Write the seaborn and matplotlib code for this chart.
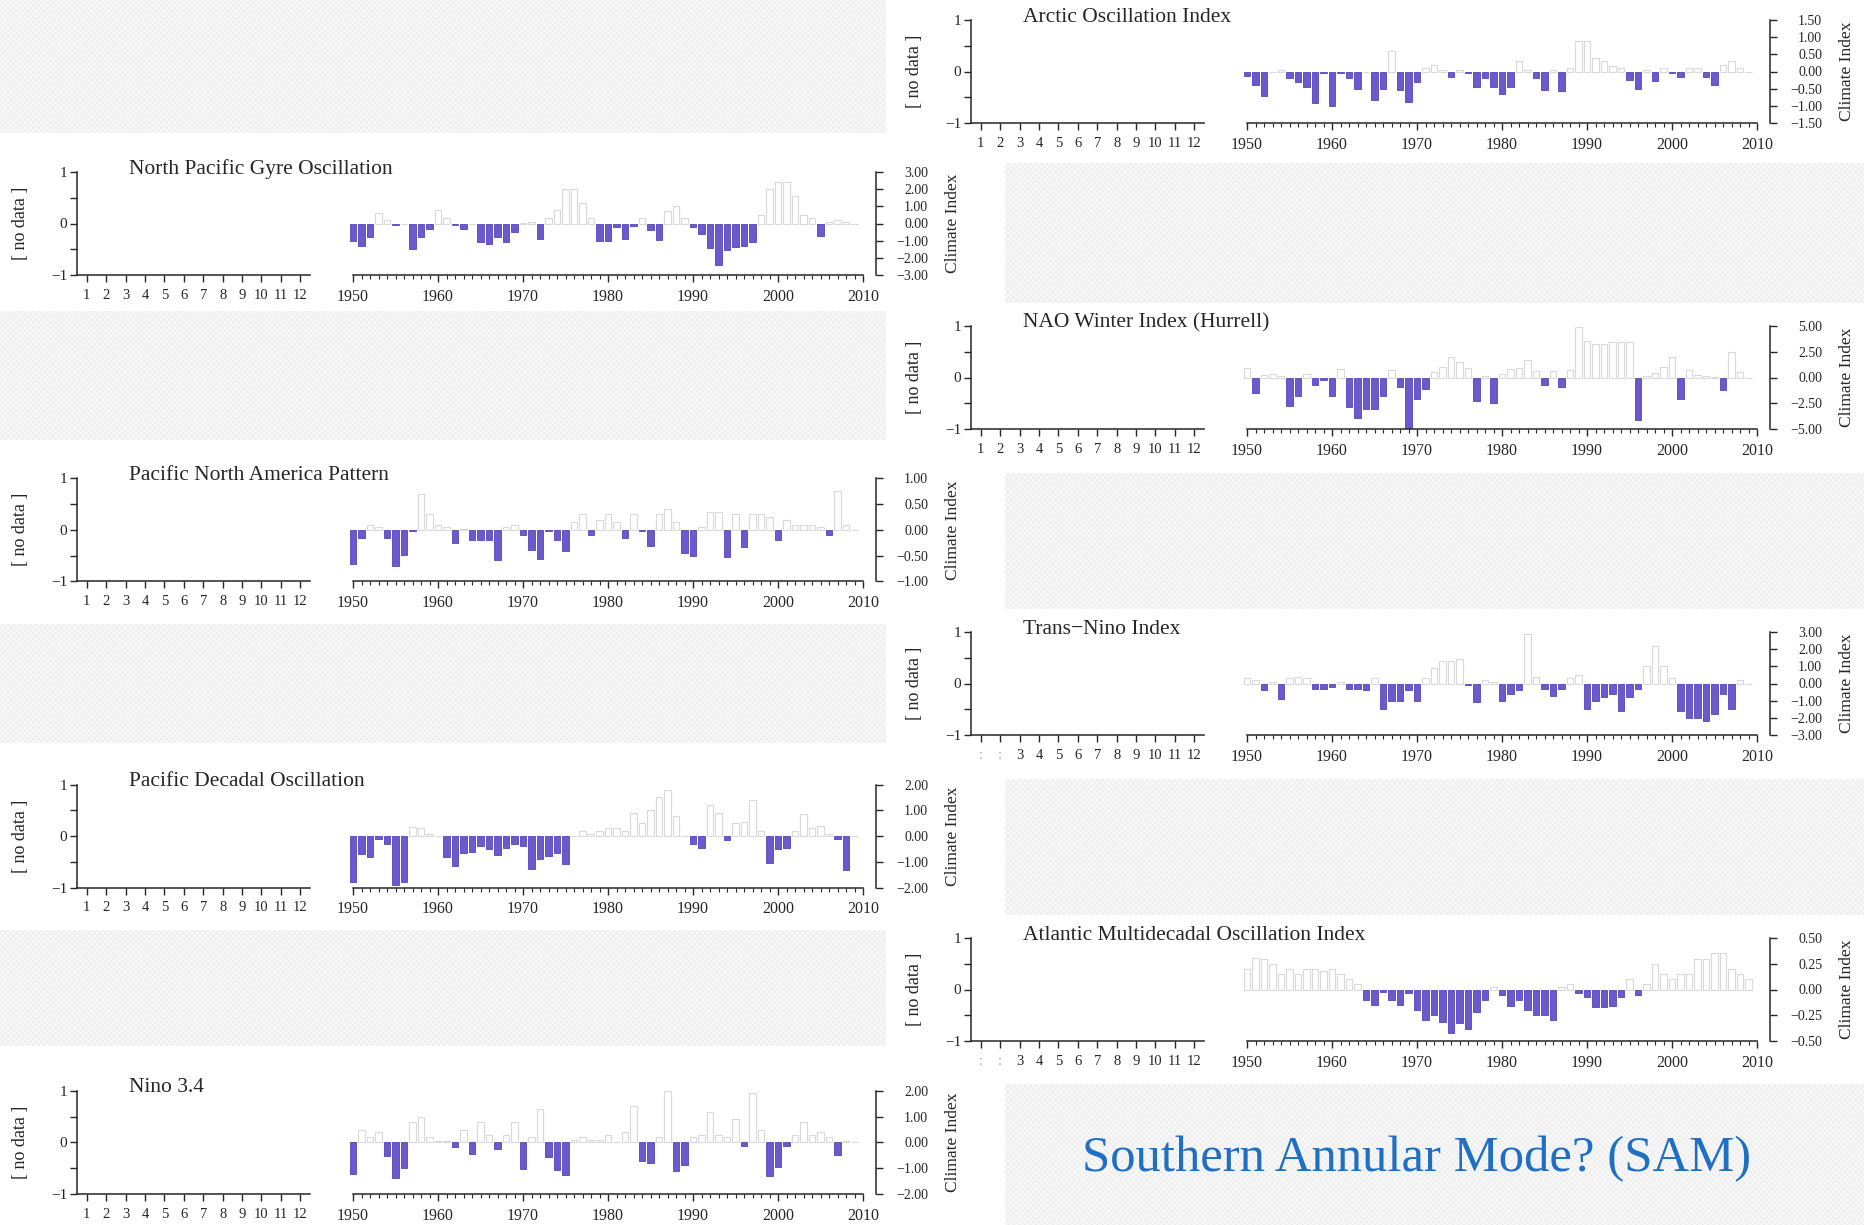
# Climate index panels: empty monthly axis ("no data") beside a yearly bar series per index.
import numpy as np
import pandas as pd
import matplotlib.pyplot as plt
import seaborn as sns
from matplotlib.patches import Rectangle

sns.set_style('ticks')
plt.rcParams['font.family'] = ['Liberation Serif', 'DejaVu Serif']
plt.rcParams['hatch.linewidth'] = 0.5

# ---- data ----
years = np.arange(1950, 2010)
months = list(range(1, 13))

npgo = [-1.0, -1.3, -0.8, 0.6, 0.2, -0.1, 0.0, -1.5, -0.8, -0.3,
        0.8, 0.3, -0.1, -0.3, 0.0, -1.1, -1.2, -0.8, -1.1, -0.5,
        0.05, 0.1, -0.9, 0.3, 0.8, 2.0, 2.0, 1.2, 0.3, -1.0,
        -1.0, -0.2, -0.9, -0.15, 0.3, -0.4, -0.95, 0.7, 1.0, 0.3,
        -0.2, -0.6, -1.4, -2.4, -1.55, -1.35, -1.3, -1.1, 0.5, 2.0,
        2.4, 2.4, 1.6, 0.5, 0.3, -0.7, 0.1, 0.2, 0.1, 0.0]
pna = [-0.67, -0.15, 0.1, 0.05, -0.15, -0.71, -0.48, -0.03, 0.7, 0.3,
       0.1, 0.05, -0.26, 0.02, -0.2, -0.2, -0.2, -0.58, 0.05, 0.1,
       -0.1, -0.4, -0.57, -0.02, -0.2, -0.42, 0.15, 0.3, -0.1, 0.2,
       0.3, 0.15, -0.15, 0.3, -0.03, -0.32, 0.3, 0.4, 0.15, -0.45,
       -0.5, 0.05, 0.35, 0.35, -0.53, 0.3, -0.33, 0.3, 0.3, 0.25,
       -0.2, 0.2, 0.1, 0.1, 0.1, 0.05, -0.1, 0.75, 0.1, 0.0]
pdo = [-1.8, -0.7, -0.83, -0.1, -0.32, -1.9, -1.8, 0.35, 0.3, 0.1,
       0.0, -0.83, -1.15, -0.65, -0.6, -0.4, -0.52, -0.74, -0.45, -0.32,
       -0.4, -1.28, -0.9, -0.77, -0.64, -1.1, 0.0, 0.2, 0.1, 0.2,
       0.3, 0.3, 0.2, 0.9, 0.5, 1.0, 1.5, 1.8, 0.8, 0.0,
       -0.3, -0.45, 1.2, 0.9, -0.15, 0.5, 0.55, 1.4, 0.2, -1.05,
       -0.5, -0.45, 0.2, 0.85, 0.3, 0.4, 0.1, -0.1, -1.3, 0.0]
nino34 = [-1.22, 0.5, 0.2, 0.4, -0.51, -1.4, -1.0, 0.8, 1.0, 0.2,
          0.05, 0.05, -0.17, 0.5, -0.45, 0.8, 0.3, -0.25, 0.3, 0.8,
          -1.03, 0.2, 1.3, -0.58, -1.09, -1.28, 0.1, 0.2, 0.1, 0.1,
          0.3, 0.0, 0.4, 1.4, -0.73, -0.81, 0.2, 2.0, -1.13, -0.87,
          0.2, 0.3, 1.2, 0.3, 0.2, 0.9, -0.13, 1.9, 0.5, -1.32,
          -0.96, -0.13, 0.3, 0.8, 0.3, 0.4, 0.2, -0.49, 0.05, 0.0]
ao = [-0.12, -0.38, -0.7, 0.0, 0.05, -0.2, -0.3, -0.45, -0.92, -0.05,
      -1.0, -0.05, -0.2, -0.5, 0.0, -0.83, -0.5, 0.6, -0.55, -0.9,
      -0.3, 0.1, 0.2, 0.05, -0.15, 0.05, -0.03, -0.45, -0.2, -0.45,
      -0.65, -0.45, 0.3, 0.05, -0.2, -0.55, 0.05, -0.58, 0.1, 0.9,
      0.9, 0.4, 0.3, 0.15, 0.1, -0.25, -0.5, 0.05, -0.28, 0.1,
      -0.05, -0.15, 0.1, 0.1, -0.15, -0.4, 0.2, 0.3, 0.1, 0.0]
nao = [0.9, -1.48, 0.2, 0.3, 0.1, -2.75, -1.8, 0.3, -0.74, -0.2,
       -1.75, 0.8, -2.9, -3.9, -3.1, -3.1, -1.8, 0.7, -0.97, -5.0,
       -2.1, -1.14, 0.5, 1.0, 2.0, 1.5, 0.9, -2.3, 0.1, -2.5,
       0.3, 0.8, 0.9, 1.7, 0.6, -0.74, 0.6, -0.97, 0.7, 4.9,
       3.5, 3.3, 3.3, 3.4, 3.4, 3.4, -4.1, 0.1, 0.4, 1.0,
       2.0, -2.1, 0.7, 0.2, 0.1, 0.05, -1.24, 2.5, 0.5, 0.0]
tni = [0.3, 0.2, -0.4, 0.1, -0.9, 0.3, 0.4, 0.3, -0.3, -0.3,
       -0.2, 0.1, -0.3, -0.3, -0.35, 0.3, -1.5, -1.0, -1.0, -0.4,
       -1.0, 0.3, 0.9, 1.3, 1.3, 1.4, -0.1, -1.1, 0.2, 0.1,
       -1.0, -0.6, -0.4, 2.9, 0.4, -0.3, -0.7, -0.3, 0.3, 0.5,
       -1.5, -1.0, -0.8, -0.6, -1.6, -0.8, -0.3, 1.0, 2.2, 1.0,
       0.3, -1.6, -2.0, -2.0, -2.2, -1.8, -0.6, -1.5, 0.2, 0.0]
amo = [0.2, 0.31, 0.3, 0.25, 0.15, 0.2, 0.15, 0.2, 0.2, 0.18,
       0.2, 0.15, 0.1, 0.05, -0.1, -0.15, -0.02, -0.1, -0.15, -0.03,
       -0.2, -0.3, -0.25, -0.32, -0.42, -0.33, -0.38, -0.22, -0.1, 0.02,
       -0.05, -0.16, -0.1, -0.2, -0.25, -0.25, -0.3, 0.02, 0.05, -0.03,
       -0.07, -0.17, -0.17, -0.16, -0.07, 0.1, -0.05, 0.05, 0.25, 0.15,
       0.1, 0.15, 0.15, 0.3, 0.3, 0.35, 0.35, 0.2, 0.15, 0.1]

# (title, values, axis limit, tick step, column, row, broken month labels)
panels = [
    ('Arctic Oscillation Index', ao, 1.5, 0.5, 'right', 0, False),
    ('North Pacific Gyre Oscillation', npgo, 3, 1, 'left', 0, False),
    ('NAO Winter Index (Hurrell)', nao, 5, 2.5, 'right', 1, False),
    ('Pacific North America Pattern', pna, 1, 0.5, 'left', 1, False),
    ('Trans\u2212Nino Index', tni, 3, 1, 'right', 2, True),
    ('Pacific Decadal Oscillation', pdo, 2, 1, 'left', 2, False),
    ('Atlantic Multidecadal Oscillation Index', amo, 0.5, 0.25, 'right', 3, True),
    ('Nino 3.4', nino34, 2, 1, 'left', 3, False),
]

W, H = 1864, 1225
PURPLE = '#6a5acd'
EDGE = '#5545bb'
GREY = '#d9d9d9'
MINUS = '\u2212'


def box(x0, y0, x1, y1):
    """pixel box (origin top-left) -> figure fraction rect"""
    return [x0 / W, 1 - y1 / H, (x1 - x0) / W, (y1 - y0) / H]


fig = plt.figure(figsize=(W / 100, H / 100), dpi=100)

# slide texture with white cut-outs behind each panel
fig.patches.append(Rectangle((0, 0), 1, 1, transform=fig.transFigure, facecolor='#f8f8f8',
                             edgecolor='#ebebeb', hatch='xxxxxx', lw=0, zorder=-10))
white = [(886, 0, 1864, 163), (0, 133, 1005, 311), (886, 303, 1864, 473), (0, 440, 1005, 624),
         (886, 609, 1864, 779), (0, 743, 1005, 930), (886, 915, 1864, 1084), (0, 1046, 1005, 1225)]
for b in white:
    r = box(*b)
    fig.patches.append(Rectangle((r[0], r[1]), r[2], r[3], transform=fig.transFigure,
                                 facecolor='white', edgecolor='none', zorder=-5))


def draw_panel(name, values, lim, step, x0, top, broken):
    h = 103
    # monthly axis, empty
    axm = fig.add_axes(box(x0, top, x0 + 233, top + h))
    axm.set_facecolor('none')
    axm.set_xlim(0.5, 12.5)
    axm.set_ylim(-1, 1)
    labels = [':' if (broken and m < 3) else str(m) for m in months]
    axm.set_xticks(months, labels=labels)
    if broken:
        for lbl in axm.get_xticklabels()[:2]:
            lbl.set_color('#aaaaaa')
    axm.set_yticks([-1, 0, 1], labels=[MINUS + '1', '0', '1'])
    axm.set_yticks([-0.5, 0.5], minor=True)
    sns.despine(ax=axm)
    for s in ['left', 'bottom']:
        axm.spines[s].set_linewidth(1.1)
    axm.tick_params(which='both', direction='out', length=5, width=1, labelsize=11, pad=2)
    axm.tick_params(axis='x', labelsize=10.5, pad=5)

    # yearly series
    ppy = 510 / 60
    tl = x0 + 276
    axt = fig.add_axes(box(tl - 0.5 * ppy, top, tl + 510, top + h))
    axt.set_facecolor('none')
    df = pd.DataFrame({'year': years, 'index': values})
    pos = df[df['index'] >= 0]
    neg = df[df['index'] < 0]
    sns.barplot(data=pos, x='year', y='index', native_scale=True, width=0.8, fill=False,
                color=GREY, saturation=1, linewidth=0.8, errorbar=None, ax=axt)
    sns.barplot(data=neg, x='year', y='index', native_scale=True, width=0.8,
                color=PURPLE, edgecolor=EDGE, saturation=1, linewidth=0.6, errorbar=None, ax=axt)
    axt.set_xlim(1950 - 0.5, 2010)
    axt.set_ylim(-lim, lim)
    axt.set_xlabel('')
    axt.set_ylabel('')
    for s in ['top', 'left']:
        axt.spines[s].set_visible(False)
    axt.spines['bottom'].set_bounds(1950, 2010)
    axt.spines['right'].set_position(('outward', 9))
    for s in ['right', 'bottom']:
        axt.spines[s].set_linewidth(1.1)
    axt.set_xticks(np.arange(1950, 2011, 10))
    axt.set_xticks(np.arange(1950, 2011, 1), minor=True)
    axt.yaxis.tick_right()
    n = int(round(2 * lim / step))
    ticks = [-lim + i * step for i in range(n + 1)]
    tlabels = [f'{abs(t):.2f}' if t >= -1e-9 else MINUS + f'{abs(t):.2f}' for t in ticks]
    axt.set_yticks(ticks, labels=tlabels)
    for lbl in axt.get_yticklabels():
        lbl.set_horizontalalignment('right')
    axt.tick_params(axis='y', direction='out', length=5, width=1, labelsize=10, pad=33)
    axt.tick_params(axis='x', which='major', direction='out', length=5, width=1, labelsize=11.5, pad=5)
    axt.tick_params(axis='x', which='minor', direction='out', length=3, width=0.8)

    yc = 1 - (top + h / 2) / H
    fig.text((x0 - 57) / W, yc, '[ no data ]', rotation=90, ha='center', va='center', fontsize=13)
    fig.text((tl + 510 + 90) / W, yc, 'Climate Index', rotation=90, ha='center', va='center',
             fontsize=12.5)
    fig.text((x0 + 52) / W, 1 - (top - 3) / H, name, ha='left', va='center', fontsize=15.5)


for name, vals, lim, step, side, row, broken in panels:
    if side == 'left':
        draw_panel(name, vals, lim, step, 77, 172 + row * 306.3, broken)
    else:
        draw_panel(name, vals, lim, step, 971, 20 + row * 306, broken)

fig.text(1082 / W, 1 - 1159 / H, 'Southern Annular Mode? (SAM)', color='#1f6fc4',
         fontsize=36.5, ha='left', va='center')

fig.savefig('out.png', dpi=100)
